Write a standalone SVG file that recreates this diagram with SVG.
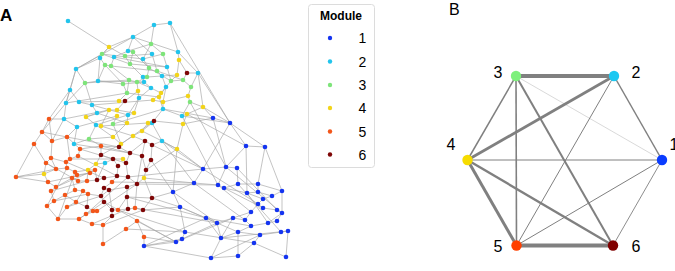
<svg xmlns="http://www.w3.org/2000/svg" width="675" height="271" viewBox="0 0 675 271">
<style>
text{font-family:"Liberation Sans",Arial,sans-serif;fill:#000}
.e{stroke:#a8a8a8;stroke-width:0.8;fill:none;stroke-opacity:0.85}
.m1{fill:#1434f0}.m2{fill:#22c4ec}.m3{fill:#7ee47a}.m4{fill:#f2d41a}.m5{fill:#f2561a}.m6{fill:#7e0606}
.be{stroke:#808080;fill:none}
.lbl{font-size:16px;text-anchor:middle}
</style>
<rect width="675" height="271" fill="#fff"/>
<text x="0" y="21" style="font-size:17px;font-weight:bold">A</text>
<text x="449" y="15" style="font-size:16px">B</text>

<g id="network-edges">
<path class="e" d="M68 21L109 47M154 25L170 23M154 25L133 37M154 25L151 44M170 23L178 52M170 23L230 123M133 37L109 47M133 37L128 51M133 37L76 69M133 37L152 54M133 37L178 52M109 47L102 54M109 47L100 58M109 47L125 56M151 44L163 54M151 44L143 59M151 44L128 51M128 51L133 52M128 51L114 57M133 52L130 64M133 52L149 68M100 58L76 69M100 58L105 65M114 57L111 66M125 56L130 64M143 59L149 68M152 54L157 71M163 54L167 67M178 52L179 60M179 60L187 73M179 60L177 75M178 52L198 73M76 69L85 83M76 69L70 90M76 69L102 54M85 83L98 81M85 83L66 103M85 83L92 105M98 81L105 65M98 81L123 84M105 65L111 66M111 66L129 80M105 65L123 84M130 64L143 77M149 68L147 77M157 71L162 76M167 67L171 81M187 73L198 73M187 73L183 80M198 73L191 87M198 73L230 123M198 73L203 107M143 77L144 82M147 77L137 82M129 80L137 82M129 80L127 93M162 76L166 87M171 81L183 80M183 80L191 87M177 75L171 81M123 84L127 93M144 82L151 88M151 88L161 93M166 87L159 97M191 87L188 96M138 91L139 98M137 82L138 91M70 90L66 103M70 90L79 102M66 103L64 119M79 102L92 105M92 105L97 113M97 113L86 117M86 117L96 125M64 119L77 127M49 119L64 119M49 119L42 132M119 101L125 101M125 101L117 110M109 110L117 110M109 110L101 126M117 116L113 124M127 123L128 115M134 113L139 98M153 100L163 102M163 102L163 109M188 96L190 102M190 102L203 107M203 107L213 118M187 114L182 116M187 114L183 124M183 124L177 149M163 109L152 123M154 121L148 123M161 93L153 100M66 103L127 93M79 102L119 101M92 105L153 100M98 81L144 82M102 54L143 59M114 57L167 67M85 83L129 80M64 119L109 110M77 127L117 116M96 125L134 113M101 126L148 123M113 124L163 109M121 144L154 121M113 137L127 123M133 136L142 131M142 131L152 123M162 141L177 149M162 141L152 145M70 90L49 119M66 103L42 132M77 127L67 137M74 144L77 127M64 119L52 141M89 139L96 125M89 139L101 146M76 69L66 103M100 58L98 81M151 88L139 98M166 87L163 102M127 93L119 101M138 91L125 101M159 97L163 109M171 81L161 93M143 59L163 54M128 115L139 98M117 110L134 113M86 117L109 110M97 113L127 123M92 105L128 115M96 125L113 137M101 126L133 136M148 123L142 131M152 123L162 141M182 116L163 109M183 124L154 121M113 124L121 144M111 66L157 71M102 54L130 64M130 64L167 67M149 68L171 81M147 77L177 75M125 56L152 54M157 71L183 80M137 82L151 88M123 84L144 82M127 93L159 97M188 96L163 102M190 102L182 116M203 107L187 114"/>
<path class="e" d="M42 132L34 144M42 132L52 141M34 144L46 163M34 144L16 177M16 177L44 174M16 177L48 182M52 141L51 158M52 141L67 137M67 137L80 149M67 137L70 159M80 149L78 156M80 149L101 146M101 146L119 147M101 146L101 155M119 147L121 144M119 147L130 153M145 141L152 145M145 141L142 156M152 145L151 160M142 156L146 170M130 153L126 163M113 159L118 166M101 155L113 159M123 159L126 163M96 164L105 163M105 163L113 159M51 158L46 163M51 158L66 162M66 162L70 159M70 159L78 156M56 169L67 168M67 168L75 172M75 172L77 175M46 163L56 169M44 174L56 169M44 174L48 182M88 170L95 170M90 173L95 170M88 170L87 181M95 170L97 180M97 180L104 178M104 178L117 176M117 176L128 177M128 177L137 184M137 184L144 178M144 178L146 170M112 182L117 176M112 182L104 188M104 188L109 190M109 190L127 187M127 187L137 184M48 182L56 187M56 187L51 191M72 178L78 181M78 181L87 181M87 181L97 180M72 178L75 190M75 190L83 191M83 191L88 194M88 194L101 196M101 196L104 202M104 202L112 210M112 210L118 210M118 210L128 209M128 209L135 208M135 208L143 210M143 210L152 198M152 198L127 197M127 197L127 187M51 191L54 201M54 201L65 195M65 195L75 190M54 201L47 206M47 206L58 219M58 219L67 207M67 207L76 202M76 202L87 207M87 207L93 211M93 211L97 211M97 211L86 214M86 214L79 219M79 219L92 224M92 224L103 225M103 225L112 216M112 216L112 210M103 225L103 244M103 244L126 229M126 229L137 221M137 221L144 237M144 237L144 246M58 219L79 219M16 177L56 169M47 206L67 168M58 219L75 172M46 163L78 181M48 182L90 173M56 187L95 170M67 207L101 196M79 219L104 202M92 224L128 209M86 214L128 177M97 211L137 184M103 225L143 210M54 201L88 194M51 191L87 181M66 162L104 178M70 159L113 159M78 156L117 176M80 149L126 163M67 137L119 147M74 144L130 153M101 146L142 156M89 139L113 137M113 137L121 144M133 136L145 141M142 131L162 141M121 144L101 155M144 178L152 198M146 170L177 149M151 160L173 192M152 198L173 192M143 210L180 207M137 221L176 242M144 237L176 242M144 246L182 239M126 229L185 232M152 145L203 169M177 149L203 169M162 141L194 183M144 178L194 183M112 182L194 183M128 177L203 169M137 184L218 185M127 197L206 218M135 208L217 223M118 210L185 232M104 202L176 242M74 144L89 139M96 164L88 170M105 163L97 180M118 166L117 176M126 163L128 177M151 160L146 170M142 156L137 184M130 153L145 141M113 159L123 159M101 155L96 164M77 175L72 178M75 172L88 170M77 175L90 173M56 187L72 178M65 195L76 202M83 191L76 202M88 194L87 207M101 196L109 190M104 188L101 196M112 210L109 190M118 210L127 197M128 209L127 197M135 208L137 184M67 168L66 162M56 169L51 158M46 163L44 174M49 119L52 141M42 132L67 137M177 149L162 141M121 144L133 136"/>
<path class="e" d="M213 118L230 123M213 118L226 167M230 123L246 146M230 123L265 147M230 123L203 169M203 169L194 183M203 169L226 167M194 183L173 192M194 183L218 185M173 192L180 207M180 207L206 218M180 207L185 232M206 218L217 223M217 223L221 238M185 232L182 239M182 239L176 242M176 242L144 246M211 258L221 238M211 258L238 256M221 238L233 218M246 146L265 147M246 146L247 193M265 147L258 184M226 167L237 168M237 168L238 184M226 167L218 185M218 185L224 188M224 188L238 184M238 184L258 184M258 184L258 192M258 192L247 193M258 192L272 196M272 196L282 191M282 191L282 213M263 199L272 196M263 199L258 204M258 204L263 208M263 208L277 210M277 210L282 213M251 212L258 204M251 212L245 220M233 218L245 220M245 220L251 226M251 226L268 223M268 223L277 221M277 221L282 213M238 232L251 226M238 232L260 235M260 235L281 232M281 232L288 231M288 231L286 257M254 243L260 235M254 243L286 257M238 256L238 232M221 238L238 232M217 223L233 218M226 167L282 213M237 168L277 210M224 188L263 208M218 185L251 212M247 193L268 223M238 184L281 232M203 169L258 204M194 183L245 220M206 218L251 226M173 192L217 223M180 207L238 232M185 232L254 243M221 238L288 231M211 258L260 235M176 242L233 218M144 246L206 218M246 146L226 167M265 147L282 191M183 124L213 118M203 107L230 123M187 114L246 146M190 102L226 167M177 149L173 192M152 198L180 207M162 141L203 169M163 109L213 118M182 116L218 185M182 116L230 123M144 246L211 258M238 256L254 243M182 239L217 223M206 218L221 238M247 193L263 199M258 184L282 191M224 188L247 193M233 218L251 212M268 223L282 213"/>
</g>

<g id="network-module-2" class="m2">
<circle cx="68" cy="21" r="2.3"/><circle cx="154" cy="25" r="2.3"/><circle cx="170" cy="23" r="2.3"/><circle cx="133" cy="37" r="2.3"/><circle cx="128" cy="51" r="2.3"/><circle cx="100" cy="58" r="2.3"/><circle cx="114" cy="57" r="2.3"/><circle cx="143" cy="59" r="2.3"/><circle cx="152" cy="54" r="2.3"/><circle cx="178" cy="52" r="2.3"/><circle cx="76" cy="69" r="2.3"/><circle cx="167" cy="67" r="2.3"/><circle cx="198" cy="73" r="2.3"/><circle cx="143" cy="77" r="2.3"/><circle cx="162" cy="76" r="2.3"/><circle cx="98" cy="81" r="2.3"/><circle cx="144" cy="82" r="2.3"/><circle cx="151" cy="88" r="2.3"/><circle cx="166" cy="87" r="2.3"/><circle cx="70" cy="90" r="2.3"/><circle cx="139" cy="98" r="2.3"/><circle cx="66" cy="103" r="2.3"/><circle cx="79" cy="102" r="2.3"/><circle cx="92" cy="105" r="2.3"/><circle cx="163" cy="109" r="2.3"/><circle cx="97" cy="113" r="2.3"/><circle cx="128" cy="115" r="2.3"/><circle cx="182" cy="116" r="2.3"/><circle cx="64" cy="119" r="2.3"/><circle cx="152" cy="123" r="2.3"/><circle cx="96" cy="125" r="2.3"/><circle cx="77" cy="127" r="2.3"/><circle cx="74" cy="144" r="2.3"/><circle cx="162" cy="141" r="2.3"/><circle cx="105" cy="163" r="2.3"/>
</g>
<g id="network-module-3" class="m3">
<circle cx="151" cy="44" r="2.3"/><circle cx="133" cy="52" r="2.3"/><circle cx="102" cy="54" r="2.3"/><circle cx="125" cy="56" r="2.3"/><circle cx="163" cy="54" r="2.3"/><circle cx="105" cy="65" r="2.3"/><circle cx="111" cy="66" r="2.3"/><circle cx="130" cy="64" r="2.3"/><circle cx="149" cy="68" r="2.3"/><circle cx="157" cy="71" r="2.3"/><circle cx="147" cy="77" r="2.3"/><circle cx="85" cy="83" r="2.3"/><circle cx="129" cy="80" r="2.3"/><circle cx="137" cy="82" r="2.3"/><circle cx="171" cy="81" r="2.3"/><circle cx="183" cy="80" r="2.3"/><circle cx="123" cy="84" r="2.3"/><circle cx="191" cy="87" r="2.3"/><circle cx="127" cy="93" r="2.3"/><circle cx="190" cy="102" r="2.3"/><circle cx="113" cy="124" r="2.3"/><circle cx="89" cy="139" r="2.3"/>
</g>
<g id="network-module-4" class="m4">
<circle cx="109" cy="47" r="2.3"/><circle cx="179" cy="60" r="2.3"/><circle cx="177" cy="75" r="2.3"/><circle cx="161" cy="93" r="2.3"/><circle cx="159" cy="97" r="2.3"/><circle cx="138" cy="91" r="2.3"/><circle cx="188" cy="96" r="2.3"/><circle cx="119" cy="101" r="2.3"/><circle cx="153" cy="100" r="2.3"/><circle cx="163" cy="102" r="2.3"/><circle cx="203" cy="107" r="2.3"/><circle cx="109" cy="110" r="2.3"/><circle cx="117" cy="110" r="2.3"/><circle cx="86" cy="117" r="2.3"/><circle cx="117" cy="116" r="2.3"/><circle cx="134" cy="113" r="2.3"/><circle cx="187" cy="114" r="2.3"/><circle cx="148" cy="123" r="2.3"/><circle cx="127" cy="123" r="2.3"/><circle cx="101" cy="126" r="2.3"/><circle cx="183" cy="124" r="2.3"/><circle cx="113" cy="137" r="2.3"/><circle cx="133" cy="136" r="2.3"/><circle cx="142" cy="131" r="2.3"/><circle cx="121" cy="144" r="2.3"/><circle cx="177" cy="149" r="2.3"/><circle cx="96" cy="164" r="2.3"/><circle cx="123" cy="159" r="2.3"/><circle cx="44" cy="174" r="2.3"/><circle cx="88" cy="170" r="2.3"/><circle cx="144" cy="178" r="2.3"/>
</g>
<g id="network-module-6" class="m6">
<circle cx="187" cy="73" r="2.3"/><circle cx="125" cy="101" r="2.3"/><circle cx="154" cy="121" r="2.3"/><circle cx="119" cy="147" r="2.3"/><circle cx="145" cy="141" r="2.3"/><circle cx="152" cy="145" r="2.3"/><circle cx="101" cy="155" r="2.3"/><circle cx="130" cy="153" r="2.3"/><circle cx="142" cy="156" r="2.3"/><circle cx="113" cy="159" r="2.3"/><circle cx="126" cy="163" r="2.3"/><circle cx="151" cy="160" r="2.3"/><circle cx="118" cy="166" r="2.3"/><circle cx="146" cy="170" r="2.3"/><circle cx="97" cy="180" r="2.3"/><circle cx="104" cy="178" r="2.3"/><circle cx="117" cy="176" r="2.3"/><circle cx="128" cy="177" r="2.3"/><circle cx="104" cy="188" r="2.3"/><circle cx="109" cy="190" r="2.3"/><circle cx="127" cy="187" r="2.3"/><circle cx="137" cy="184" r="2.3"/><circle cx="101" cy="196" r="2.3"/><circle cx="127" cy="197" r="2.3"/><circle cx="152" cy="198" r="2.3"/><circle cx="104" cy="202" r="2.3"/><circle cx="87" cy="207" r="2.3"/><circle cx="112" cy="210" r="2.3"/><circle cx="128" cy="209" r="2.3"/><circle cx="143" cy="210" r="2.3"/><circle cx="112" cy="216" r="2.3"/>
</g>
<g id="network-module-5" class="m5">
<circle cx="49" cy="119" r="2.3"/><circle cx="42" cy="132" r="2.3"/><circle cx="67" cy="137" r="2.3"/><circle cx="52" cy="141" r="2.3"/><circle cx="34" cy="144" r="2.3"/><circle cx="101" cy="146" r="2.3"/><circle cx="80" cy="149" r="2.3"/><circle cx="51" cy="158" r="2.3"/><circle cx="46" cy="163" r="2.3"/><circle cx="66" cy="162" r="2.3"/><circle cx="70" cy="159" r="2.3"/><circle cx="78" cy="156" r="2.3"/><circle cx="16" cy="177" r="2.3"/><circle cx="56" cy="169" r="2.3"/><circle cx="67" cy="168" r="2.3"/><circle cx="75" cy="172" r="2.3"/><circle cx="77" cy="175" r="2.3"/><circle cx="95" cy="170" r="2.3"/><circle cx="90" cy="173" r="2.3"/><circle cx="48" cy="182" r="2.3"/><circle cx="72" cy="178" r="2.3"/><circle cx="78" cy="181" r="2.3"/><circle cx="87" cy="181" r="2.3"/><circle cx="112" cy="182" r="2.3"/><circle cx="56" cy="187" r="2.3"/><circle cx="51" cy="191" r="2.3"/><circle cx="75" cy="190" r="2.3"/><circle cx="83" cy="191" r="2.3"/><circle cx="88" cy="194" r="2.3"/><circle cx="54" cy="201" r="2.3"/><circle cx="76" cy="202" r="2.3"/><circle cx="65" cy="195" r="2.3"/><circle cx="47" cy="206" r="2.3"/><circle cx="67" cy="207" r="2.3"/><circle cx="93" cy="211" r="2.3"/><circle cx="97" cy="211" r="2.3"/><circle cx="118" cy="210" r="2.3"/><circle cx="135" cy="208" r="2.3"/><circle cx="86" cy="214" r="2.3"/><circle cx="58" cy="219" r="2.3"/><circle cx="79" cy="219" r="2.3"/><circle cx="92" cy="224" r="2.3"/><circle cx="103" cy="225" r="2.3"/><circle cx="137" cy="221" r="2.3"/><circle cx="126" cy="229" r="2.3"/><circle cx="144" cy="237" r="2.3"/><circle cx="103" cy="244" r="2.3"/>
</g>
<g id="network-module-1" class="m1">
<circle cx="213" cy="118" r="2.3"/><circle cx="230" cy="123" r="2.3"/><circle cx="203" cy="169" r="2.3"/><circle cx="194" cy="183" r="2.3"/><circle cx="173" cy="192" r="2.3"/><circle cx="218" cy="185" r="2.3"/><circle cx="224" cy="188" r="2.3"/><circle cx="180" cy="207" r="2.3"/><circle cx="206" cy="218" r="2.3"/><circle cx="217" cy="223" r="2.3"/><circle cx="185" cy="232" r="2.3"/><circle cx="182" cy="239" r="2.3"/><circle cx="176" cy="242" r="2.3"/><circle cx="221" cy="238" r="2.3"/><circle cx="144" cy="246" r="2.3"/><circle cx="211" cy="258" r="2.3"/><circle cx="246" cy="146" r="2.3"/><circle cx="265" cy="147" r="2.3"/><circle cx="226" cy="167" r="2.3"/><circle cx="237" cy="168" r="2.3"/><circle cx="238" cy="184" r="2.3"/><circle cx="258" cy="184" r="2.3"/><circle cx="247" cy="193" r="2.3"/><circle cx="258" cy="192" r="2.3"/><circle cx="282" cy="191" r="2.3"/><circle cx="272" cy="196" r="2.3"/><circle cx="263" cy="199" r="2.3"/><circle cx="258" cy="204" r="2.3"/><circle cx="263" cy="208" r="2.3"/><circle cx="277" cy="210" r="2.3"/><circle cx="282" cy="213" r="2.3"/><circle cx="251" cy="212" r="2.3"/><circle cx="233" cy="218" r="2.3"/><circle cx="245" cy="220" r="2.3"/><circle cx="251" cy="226" r="2.3"/><circle cx="268" cy="223" r="2.3"/><circle cx="277" cy="221" r="2.3"/><circle cx="238" cy="232" r="2.3"/><circle cx="260" cy="235" r="2.3"/><circle cx="281" cy="232" r="2.3"/><circle cx="288" cy="231" r="2.3"/><circle cx="254" cy="243" r="2.3"/><circle cx="238" cy="256" r="2.3"/><circle cx="286" cy="257" r="2.3"/>
</g>

<g id="legend">
<rect x="308.5" y="4.5" width="66" height="163" rx="3" fill="#fff" stroke="#dcdcdc" stroke-width="1"/>
<text x="341" y="20" style="font-size:12px;font-weight:bold;text-anchor:middle">Module</text>
<circle class="m1" cx="330" cy="38" r="2.2"/><text x="362.5" y="43" style="font-size:14px;text-anchor:middle">1</text>
<circle class="m2" cx="330" cy="61.5" r="2.2"/><text x="362.5" y="66.5" style="font-size:14px;text-anchor:middle">2</text>
<circle class="m3" cx="330" cy="85" r="2.2"/><text x="362.5" y="90" style="font-size:14px;text-anchor:middle">3</text>
<circle class="m4" cx="330" cy="108" r="2.2"/><text x="362.5" y="113" style="font-size:14px;text-anchor:middle">4</text>
<circle class="m5" cx="330" cy="131.5" r="2.2"/><text x="362.5" y="136.5" style="font-size:14px;text-anchor:middle">5</text>
<circle class="m6" cx="330" cy="154.5" r="2.2"/><text x="362.5" y="159.5" style="font-size:14px;text-anchor:middle">6</text>
</g>

<g id="module-edges">
<line class="be" x1="516" y1="76" x2="614" y2="76" stroke-width="4"/>
<line class="be" x1="516.5" y1="245.5" x2="613" y2="245.5" stroke-width="4"/>
<line class="be" x1="467.5" y1="160" x2="614" y2="76" stroke-width="2.8"/>
<line class="be" x1="467.5" y1="160" x2="516.5" y2="245.5" stroke-width="3"/>
<line class="be" x1="467.5" y1="160" x2="613" y2="245.5" stroke-width="2.4"/>
<line class="be" x1="516" y1="76" x2="613" y2="245.5" stroke-width="2"/>
<line class="be" x1="516" y1="76" x2="467.5" y2="160" stroke-width="1.5"/>
<line class="be" x1="516" y1="76" x2="516.5" y2="245.5" stroke-width="1.6"/>
<line class="be" x1="614" y1="76" x2="662" y2="160" stroke-width="1.5"/>
<line class="be" x1="614" y1="76" x2="516.5" y2="245.5" stroke-width="1"/>
<line class="be" x1="467.5" y1="160" x2="662" y2="160" stroke-width="1"/>
<line class="be" x1="516.5" y1="245.5" x2="662" y2="160" stroke-width="1"/>
<line class="be" x1="613" y1="245.5" x2="662" y2="160" stroke-width="0.9"/>
<line class="be" x1="516" y1="76" x2="662" y2="160" stroke-width="0.5" stroke-opacity="0.6"/>
</g>
<g id="module-1"><circle cx="662" cy="160" r="5.2" fill="#0a3cff"/><text class="lbl" x="674" y="150">1</text></g>
<g id="module-2"><circle cx="614" cy="76" r="5.2" fill="#1cc8f2"/><text class="lbl" x="636" y="77.5">2</text></g>
<g id="module-3"><circle cx="516" cy="76" r="5.2" fill="#7ef07c"/><text class="lbl" x="498" y="77.5">3</text></g>
<g id="module-4"><circle cx="467.5" cy="160" r="5.2" fill="#f6dc00"/><text class="lbl" x="451" y="150">4</text></g>
<g id="module-5"><circle cx="516.5" cy="245.5" r="5.2" fill="#ff4000"/><text class="lbl" x="498" y="252">5</text></g>
<g id="module-6"><circle cx="613" cy="245.5" r="5.2" fill="#800000"/><text class="lbl" x="636" y="252">6</text></g>
</svg>
